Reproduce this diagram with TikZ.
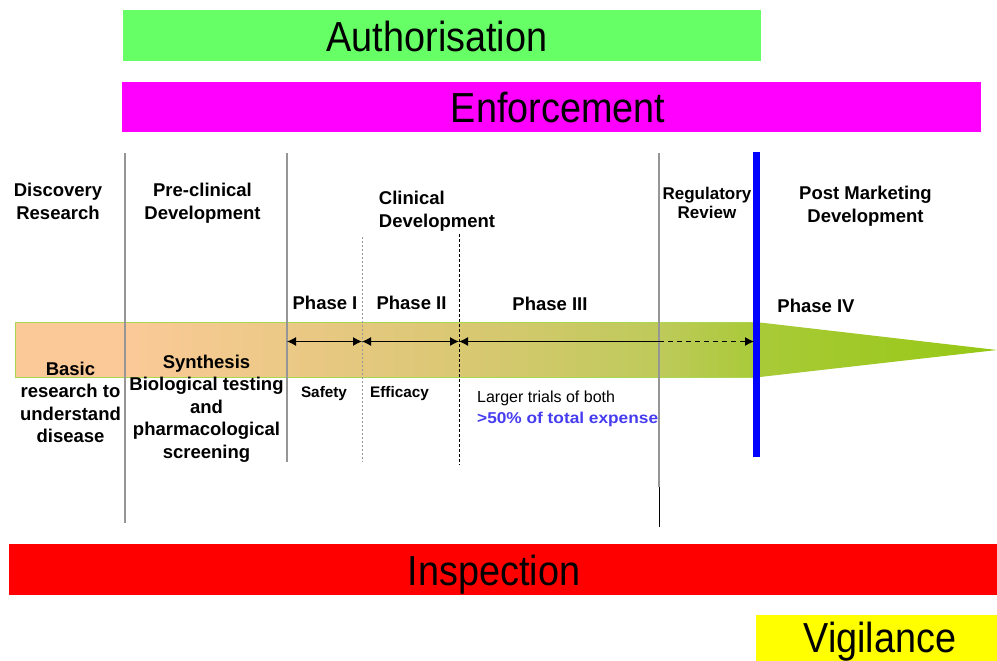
\documentclass[tikz,border=0pt]{standalone}
\usepackage{fontspec}
\setmainfont{Liberation Sans}
\newfontfamily\bannerfont[FakeStretch=0.9]{Liberation Sans}
\newfontfamily\widefont[FakeStretch=1.1]{Liberation Sans}
\usetikzlibrary{arrows.meta}
\definecolor{authgreen}{RGB}{102,255,102}
\definecolor{enfmagenta}{RGB}{255,0,255}
\definecolor{insred}{RGB}{255,0,0}
\definecolor{vigyellow}{RGB}{255,255,0}
\definecolor{bandorange}{RGB}{251,201,152}
\definecolor{bandolive}{RGB}{218,200,115}
\definecolor{bandlime}{RGB}{190,202,90}
\definecolor{bandgreen}{RGB}{168,202,55}
\definecolor{bandtip}{RGB}{150,200,20}
\definecolor{bandedge}{RGB}{170,215,80}
\definecolor{costblue}{RGB}{70,60,240}
\definecolor{divgray}{RGB}{150,150,150}
\pgfdeclarehorizontalshading{bandshading}{100bp}{color(0bp)=(bandorange); color(30.6bp)=(bandorange); color(47.6bp)=(bandolive); color(57.8bp)=(bandlime); color(63bp)=(bandgreen); color(75bp)=(bandtip); color(100bp)=(bandtip)}
\begin{document}
\begin{tikzpicture}[x=1pt,y=-1pt,
	banner/.style={anchor=base,inner sep=0pt,font=\bannerfont\fontsize{42}{42}\selectfont},
	stage/.style={align=center,inner sep=0pt,font=\bfseries\fontsize{18.5}{22.5}\selectfont},
	phase/.style={anchor=base,inner sep=0pt,font=\bfseries\fontsize{18.5}{22}\selectfont},
	trial/.style={anchor=base,inner sep=0pt,font=\bfseries\fontsize{15.3}{18}\selectfont},
	span/.style={line width=1.2pt,{Latex[length=9pt,width=9pt]}-{Latex[length=9pt,width=9pt]}},
	divider/.style={divgray,line width=1.5pt}]
	\useasboundingbox (0,0) rectangle (997,661);
	\fill[authgreen] (123,10) rectangle (761,61);
	\fill[enfmagenta] (122,82) rectangle (981,132);
	\fill[insred] (9,544) rectangle (997,595);
	\fill[vigyellow] (756,615) rectangle (997,661);
	\node[banner] (auth) at (437,51.5) {Authorisation};
	\node[banner] (enf) at (558,123) {Enforcement};
	\node[banner] (insp) at (494,585) {Inspection};
	\node[banner] (vig) at (880,652) {Vigilance};
	\shade[shading=bandshading] (15,322.5) -- (760,322.5) -- (997,350) -- (760,377) -- (15,377) -- cycle;
	\draw[bandedge,line width=1pt] (760,322.5) -- (15,322.5) -- (15,377) -- (760,377);
	\foreach \x/\ytop/\ybot in {125/153/523,287/153/462,659/153/487}
	\draw[divider] (\x,\ytop) -- (\x,\ybot);
	\draw[line width=1pt] (659,487) -- (659,527);
	\draw[divgray,line width=1pt,dash pattern=on 2pt off 2pt] (362,237) -- (362,462);
	\draw[line width=1pt,dash pattern=on 3pt off 2pt] (459,234) -- (459,465);
	\draw[blue,line width=7pt] (756.5,152) -- (756.5,457);
	\coordinate (p0) at (287,341.5);
	\coordinate (p1) at (362,341.5);
	\coordinate (p2) at (459,341.5);
	\coordinate (p3) at (659,341.5);
	\coordinate (p4) at (754,341.5);
	\draw[span] (p0) -- (p1);
	\draw[span] (p1) -- (p2);
	\draw[line width=1.2pt,{Latex[length=9pt,width=9pt]}-] (p2) -- (p3);
	\draw[line width=1.2pt,dash pattern=on 5pt off 4pt,-{Latex[length=9pt,width=9pt]}] (p3) -- (p4);
	\node[stage] (disc) at (58,201.4) {Discovery\\Research};
	\node[stage] (precl) at (202.5,203.3) {Pre-clinical\\Development};
	\node[stage,align=left] (clin) at (437,211.3) {Clinical\\Development};
	\node[stage,font=\bfseries\fontsize{17}{19.5}\selectfont] (reg) at (707,202.7) {Regulatory\\Review};
	\node[stage] (post) at (865.5,206.3) {Post Marketing\\Development};
	\node[phase] (ph1) at (325,309) {Phase I};
	\node[phase] (ph2) at (411.5,309) {Phase II};
	\node[phase] (ph3) at (550,310) {Phase III};
	\node[phase] (ph4) at (816,312) {Phase IV};
	\node[stage] (basic) at (70.5,402.4) {Basic\\research to\\understand\\disease};
	\node[stage] (synth) at (206.5,408.3) {Synthesis\\Biological testing\\and\\pharmacological\\screening};
	\node[trial] (safety) at (324,397) {Safety};
	\node[trial] (efficacy) at (399.5,397) {Efficacy};
	\node[anchor=base west,inner sep=0pt,font=\fontsize{16}{19}\selectfont] (larger) at (477,402.5) {Larger trials of both};
	\node[anchor=base west,inner sep=0pt,text=costblue,font=\widefont\bfseries\fontsize{15.7}{19}\selectfont] (expense) at (477,423) {>50\% of total expense};
\end{tikzpicture}
\end{document}
